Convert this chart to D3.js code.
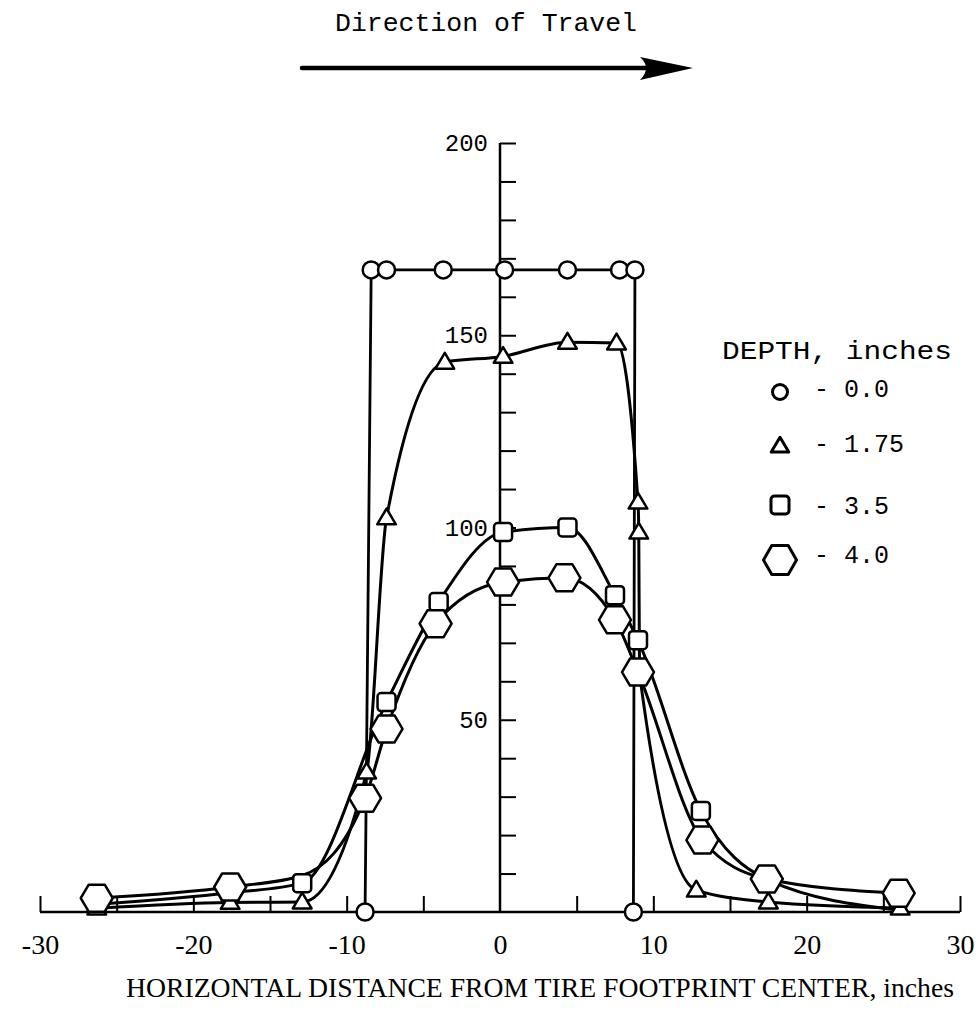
<!DOCTYPE html>
<html>
<head>
<meta charset="utf-8">
<script src="https://cdn.jsdelivr.net/npm/d3@7/dist/d3.min.js"></script>
<style>
  html, body { margin: 0; padding: 0; background: #fff; }
  svg { display: block; }
</style>
</head>
<body>
<svg id="chart" width="980" height="1020"></svg>
<script>
// ---------- data ----------
const depthLabels = ["0.0", "1.75", "3.5", "4.0"];
const xTickLabels = [-30, -20, -10, 0, 10, 20, 30];
const xTickMarks = [-30, -25, -20, -15, -10, -5, 5, 10, 15, 20, 25, 30];
const yTickLabels = [50, 100, 150, 200];
const yTickMarks = [10, 20, 30, 40, 50, 60, 70, 80, 90, 100, 110, 120, 130, 140, 150, 160, 170, 180, 190, 200];

// depth 0.0 (circles)
const circleX = [-8.8, -8.4, -7.4, -3.7, 0.3, 4.4, 7.8, 8.8, 8.7];
const circleY = [0, 167, 167, 167, 167, 167, 167, 167, 0];
// depth 1.75 (triangles)
const triX = [-26.3, -17.6, -12.9, -8.7, -7.4, -3.6, 0.2, 4.4, 7.6, 9.0, 9.05, 9.1, 12.8, 17.5, 26.1];
const triY = [1, 2.5, 2.6, 36.4, 102.5, 143, 144.5, 148.2, 148, 106.6, 98.8, 62, 5.7, 2.6, 1];
// depth 3.5 (squares); last point's symbol is hidden in the original
const sqX = [-26.3, -17.6, -12.9, -7.4, -4.0, 0.2, 4.4, 7.5, 9.0, 13.1, 17.5, 26.1];
const sqY = [2, 5, 7.5, 54.6, 80.6, 98.8, 100, 82.4, 70.7, 26.3, 8.3, 0.5];
const sqMarked = [true, true, true, true, true, true, true, true, true, true, true, false];
// depth 4.0 (hexagons); the point at -12.9 lies under the square symbol in the original
const hexX = [-26.3, -17.6, -12.9, -8.8, -7.4, -4.2, 0.2, 4.2, 7.5, 9.0, 13.2, 17.4, 26.0];
const hexY = [3.6, 6.5, 9.5, 29.6, 47.6, 75, 85.8, 86.9, 76, 62.4, 18.7, 8.6, 4.9];
const hexMarked = [true, true, false, true, true, true, true, true, true, true, true, true, true];

// ---------- setup ----------
const svg = d3.select("#chart");
const x = d3.scaleLinear().domain([-30, 30]).range([40, 960]);
const y = d3.scaleLinear().domain([0, 200]).range([912, 143]);
const ink = "#000";
const mono = "'Liberation Mono', 'DejaVu Sans Mono', monospace";
const serif = "'Liberation Serif', 'DejaVu Serif', serif";

const zip = (xs, ys) => xs.map((v, i) => [v, ys[i]]);
const circles = zip(circleX, circleY);
const tris = zip(triX, triY);
const squares = zip(sqX, sqY);
const hexes = zip(hexX, hexY);

// ---------- title + arrow ----------
svg.append("text").attr("x", 486).attr("y", 31).attr("text-anchor", "middle")
  .attr("font-family", mono).attr("font-size", 26).attr("fill", ink)
  .attr("textLength", 302).attr("lengthAdjust", "spacingAndGlyphs")
  .text("Direction of Travel");
svg.append("line").attr("x1", 302).attr("x2", 660).attr("y1", 68).attr("y2", 68)
  .attr("stroke", ink).attr("stroke-width", 4.5).attr("stroke-linecap", "round");
svg.append("path").attr("d", "M693,68 L640,57 Q652,68 640,80 Z").attr("fill", ink);

// ---------- axes ----------
const xAxis = d3.axisBottom(x).tickValues(xTickMarks).tickSize(-16).tickFormat("");
const gx = svg.append("g").attr("transform", `translate(0,${y(0)})`).call(xAxis);
gx.select(".domain").remove();
gx.selectAll(".tick line").attr("stroke", ink).attr("stroke-width", 2);
svg.append("line").attr("x1", x(-30)).attr("x2", x(30)).attr("y1", y(0)).attr("y2", y(0))
  .attr("stroke", ink).attr("stroke-width", 2.5);

const xLab = d3.axisBottom(x).tickValues(xTickLabels).tickSize(0).tickPadding(22)
  .tickFormat(d => d < 0 ? "-" + Math.abs(d) : String(d));
const gxl = svg.append("g").attr("transform", `translate(0,${y(0)})`).call(xLab);
gxl.select(".domain").remove();
gxl.selectAll(".tick text").attr("font-family", serif).attr("font-size", 28).attr("fill", ink);

const yAxis = d3.axisRight(y).tickValues(yTickMarks).tickSize(16).tickFormat("");
const gy = svg.append("g").attr("transform", `translate(${x(0)},0)`).call(yAxis);
gy.select(".domain").remove();
gy.selectAll(".tick line").attr("stroke", ink).attr("stroke-width", 2);
svg.append("line").attr("x1", x(0)).attr("x2", x(0)).attr("y1", y(0)).attr("y2", y(200))
  .attr("stroke", ink).attr("stroke-width", 2.5);

const yLab = d3.axisLeft(y).tickValues(yTickLabels).tickSize(0).tickPadding(12);
const gyl = svg.append("g").attr("transform", `translate(${x(0)},0)`).call(yLab);
gyl.select(".domain").remove();
gyl.selectAll(".tick text").attr("font-family", mono).attr("font-size", 24).attr("fill", ink);

svg.append("text").attr("x", 540).attr("y", 997).attr("text-anchor", "middle")
  .attr("font-family", serif).attr("font-size", 27).attr("fill", ink)
  .attr("textLength", 828).attr("lengthAdjust", "spacingAndGlyphs")
  .text("HORIZONTAL DISTANCE FROM TIRE FOOTPRINT CENTER, inches");

// ---------- lines ----------
const smooth = d3.line().x(d => x(d[0])).y(d => y(d[1])).curve(d3.curveMonotoneX);
const straight = d3.line().x(d => x(d[0])).y(d => y(d[1]));
const lineG = svg.append("g").attr("fill", "none").attr("stroke", ink).attr("stroke-linejoin", "round");
lineG.append("path").attr("d", straight(circles)).attr("stroke-width", 2.8);
lineG.append("path").attr("d", smooth(tris)).attr("stroke-width", 3);
lineG.append("path").attr("d", smooth(squares)).attr("stroke-width", 3);
lineG.append("path").attr("d", smooth(hexes)).attr("stroke-width", 3);

// ---------- markers ----------
function triPath(s) { return `M0,${-s * 0.55} L${s * 0.55},${s * 0.38} L${-s * 0.55},${s * 0.38} Z`; }
function hexPath(w, h) {
  return `M${-w / 2},0 L${-w / 4},${-h / 2} L${w / 4},${-h / 2} L${w / 2},0 L${w / 4},${h / 2} L${-w / 4},${h / 2} Z`;
}
const mk = svg.append("g").attr("fill", "#fff").attr("stroke", ink).attr("stroke-width", 2.5).attr("stroke-linejoin", "round");

mk.selectAll(".sq").data(squares.filter((d, i) => sqMarked[i])).join("rect").attr("class", "sq")
  .attr("x", d => x(d[0]) - 9).attr("y", d => y(d[1]) - 9)
  .attr("width", 18).attr("height", 18).attr("rx", 3.5);
mk.selectAll(".tri").data(tris).join("path").attr("class", "tri")
  .attr("transform", d => `translate(${x(d[0])},${y(d[1])})`).attr("d", triPath(17));
mk.selectAll(".cir").data(circles).join("circle").attr("class", "cir")
  .attr("cx", d => x(d[0])).attr("cy", d => y(d[1])).attr("r", 8.5);
mk.selectAll(".hex").data(hexes.filter((d, i) => hexMarked[i])).join("path").attr("class", "hex")
  .attr("transform", d => `translate(${x(d[0])},${y(d[1])})`).attr("d", hexPath(32, 27));

// ---------- legend ----------
svg.append("text").attr("x", 722).attr("y", 359)
  .attr("font-family", mono).attr("font-size", 26).attr("fill", ink)
  .attr("textLength", 230).attr("lengthAdjust", "spacingAndGlyphs")
  .text("DEPTH, inches");
const legY = [392, 446, 505, 560];
const textY = [397, 452, 514, 563];
const lg = svg.append("g").attr("fill", "#fff").attr("stroke", ink).attr("stroke-width", 3).attr("stroke-linejoin", "round");
lg.append("circle").attr("cx", 780).attr("cy", legY[0]).attr("r", 7.5);
lg.append("path").attr("transform", `translate(780,${legY[1]})`).attr("d", triPath(16));
lg.append("rect").attr("x", 771).attr("y", legY[2] - 9).attr("width", 18).attr("height", 18).attr("rx", 3.5);
lg.append("path").attr("transform", `translate(780,${legY[3]})`).attr("d", hexPath(33, 29));
svg.selectAll(".legtext").data(depthLabels).join("text").attr("class", "legtext")
  .attr("x", 814).attr("y", (d, i) => textY[i])
  .attr("font-family", mono).attr("font-size", 25).attr("fill", ink)
  .text(d => "- " + d);
</script>
</body>
</html>
